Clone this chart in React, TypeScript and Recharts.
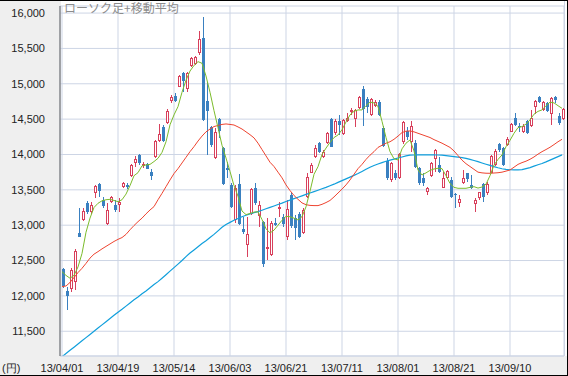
import React from "react"
import { ComposedChart, Bar, Line, XAxis, YAxis, CartesianGrid } from "recharts"

// 日足 (2013/04/01 〜), 始値・高値・安値・終値
const OPEN = [
  12380, 12070, 12100, 12200, 12895, 13080, 13320, 13185, 13450, 13585,
  13360, 13020, 13335, 13290, 13290, 13545, 13570, 13695, 13885, 13990,
  13850, 13865, 13750, 13960, 14195, 14385, 14440, 14760, 14830, 14960,
  15157, 14922, 15255, 15275, 15430, 15650, 14750, 14395, 13950, 14500,
  14090, 13815, 13570, 13075, 13585, 12940, 12720, 13160, 13520, 13130,
  13050, 12680, 12580, 13035, 13240, 13120, 12840, 13430, 13095, 13165,
  12885, 13405, 13745, 13970, 14158, 13970, 14160, 14498, 14300, 14474,
  14290, 14480, 14620, 14498, 14653, 14922, 14780, 14560, 14686, 14743,
  14380, 13913, 13640, 13734, 13663, 14182, 14337, 14182, 14168, 13804,
  13663, 13475, 13696, 13937, 13852, 13531, 13663, 13640, 13440, 13319,
  13592, 13734, 13569, 13296, 13380, 13583, 13451, 13743, 13847, 14149,
  14087, 14135, 14323, 14512, 14400, 14323, 14474, 14403, 14677, 14809,
  14630, 14724, 14573, 14818, 14545, 14498,
]
const HIGH = [
  12400, 12130, 12400, 12660, 13240, 13240, 13340, 13330, 13570, 13590,
  13400, 13310, 13410, 13355, 13380, 13615, 13600, 13865, 13980, 14010,
  13900, 13885, 13790, 14205, 14430, 14420, 14645, 14840, 14865, 15125,
  15170, 15170, 15385, 15395, 15740, 15950, 15020, 14400, 14370, 14510,
  14110, 13900, 13600, 13570, 13720, 13120, 13120, 13530, 13600, 13340,
  13060, 13100, 13060, 13100, 13335, 13160, 13355, 13475, 13145, 13190,
  13240, 13735, 13875, 14135, 14180, 14063, 14323, 14512, 14498, 14559,
  14498, 14583, 14653, 14640, 14828, 14970, 14818, 14795, 14771, 14771,
  14403, 13946, 13899, 13781, 14017, 14475, 14394, 14474, 14205, 13828,
  13734, 13545, 13899, 14073, 13970, 13757, 13781, 13687, 13451, 13427,
  13781, 13743, 13710, 13380, 13475, 13602, 13616, 13993, 14073, 14158,
  14101, 14252, 14441, 14583, 14441, 14427, 14488, 14630, 14771, 14828,
  14762, 14747, 14818, 14828, 14583, 14653,
]
const LOW = [
  12110, 11800, 12050, 12080, 12830, 13060, 13160, 13160, 13380, 13400,
  13250, 13005, 13320, 13190, 13190, 13530, 13510, 13685, 13830, 13850,
  13805, 13790, 13640, 13945, 14180, 14180, 14430, 14730, 14748, 14950,
  14890, 14890, 15240, 15265, 15408, 14480, 13990, 14110, 13930, 14230,
  13570, 13670, 13240, 13030, 13000, 12880, 12550, 13145, 13290, 12980,
  12415, 12510, 12560, 12990, 13120, 12980, 12790, 12955, 12790, 12815,
  12875, 13385, 13735, 13945, 14017, 13946, 14148, 14101, 14276, 14276,
  14276, 14465, 14559, 14394, 14639, 14400, 14583, 14545, 14677, 14545,
  14101, 13640, 13616, 13640, 13650, 14150, 14205, 14040, 13804, 13569,
  13555, 13427, 13687, 13757, 13734, 13522, 13650, 13380, 13239, 13262,
  13583, 13616, 13510, 13190, 13357, 13333, 13427, 13734, 13838, 14040,
  13838, 14125, 14314, 14408, 14323, 14300, 14290, 14394, 14573, 14724,
  14620, 14606, 14417, 14733, 14417, 14488,
]
const CLOSE = [
  12135, 12005, 12362, 12634, 12840, 13200, 13190, 13290, 13550, 13490,
  13270, 13220, 13395, 13215, 13335, 13590, 13540, 13850, 13940, 13875,
  13865, 13800, 13700, 14190, 14290, 14196, 14620, 14810, 14762, 15110,
  15044, 15157, 15360, 15385, 15630, 14485, 14612, 14140, 14311, 14326,
  13589, 13774, 13262, 13533, 13014, 12904, 12877, 13514, 13317, 13290,
  12445, 12697, 13033, 13007, 13260, 13014, 13230, 12990, 12960, 12838,
  13213, 13677, 13852, 14098, 14040, 14036, 14309, 14110, 14480, 14417,
  14488, 14512, 14630, 14630, 14809, 14640, 14677, 14780, 14747, 14559,
  14120, 13663, 13875, 13663, 14003, 14465, 14252, 14408, 13828, 13602,
  13602, 13522, 13875, 14064, 13757, 13663, 13767, 13394, 13425, 13366,
  13663, 13649, 13522, 13357, 13465, 13394, 13578, 13984, 14054, 14064,
  13852, 14219, 14427, 14417, 14394, 14408, 14309, 14512, 14762, 14747,
  14747, 14620, 14804, 14771, 14441, 14639,
]

// 移動平均 (緑・赤・青), 図から読み取り
const MA_SHORT = [
  12343, 12290, 12250, 12290, 12410, 12600, 12900, 13100, 13250, 13310,
  13345, 13360, 13366, 13350, 13333, 13360, 13440, 13560, 13700, 13743,
  13840, 13852, 13860, 13900, 13946, 14030, 14180, 14420, 14560, 14677,
  14880, 15050, 15180, 15260, 15313, 15290, 15110, 14880, 14620, 14380,
  14130, 13950, 13760, 13560, 13410, 13200, 13150, 13165, 13185, 13190,
  13080, 12950, 12890, 12930, 13000, 13070, 13125, 13120, 13100, 13074,
  13121, 13260, 13480, 13720, 13828, 14000, 14090, 14170, 14240, 14276,
  14350, 14460, 14560, 14610, 14630, 14630, 14690, 14740, 14730, 14680,
  14470, 14240, 14040, 13940, 13922, 14080, 14160, 14205, 14050, 13780,
  13710, 13740, 13775, 13795, 13805, 13800, 13700, 13590, 13535, 13522,
  13522, 13522, 13535, 13545, 13525, 13540, 13580, 13700, 13850, 13930,
  13993, 14110, 14200, 14300, 14380, 14394, 14430, 14490, 14570, 14610,
  14630, 14690, 14740, 14730, 14690, 14653,
]
const MA_MID = [
  12131, 12140, 12190, 12260, 12330, 12390, 12460, 12535, 12590, 12626,
  12665, 12700, 12735, 12770, 12800, 12825, 12870, 12935, 12995, 13050,
  13100, 13160, 13215, 13263, 13360, 13450, 13545, 13640, 13730, 13800,
  13880, 13960, 14040, 14111, 14190, 14260, 14320, 14360, 14395, 14410,
  14425, 14432, 14425, 14417, 14390, 14360, 14320, 14280, 14235, 14160,
  14070, 13980, 13890, 13830, 13750, 13670, 13570, 13490, 13420, 13366,
  13315, 13290, 13280, 13277, 13277, 13295, 13320, 13350, 13400, 13455,
  13510, 13570, 13640, 13720, 13800, 13860, 13930, 13990, 14040, 14100,
  14130, 14160, 14180, 14215, 14260, 14310, 14330, 14333, 14320, 14300,
  14280, 14260, 14240, 14210, 14185, 14160, 14130, 14100, 14050, 13985,
  13920, 13870, 13830, 13790, 13750, 13740, 13735, 13734, 13738, 13742,
  13750, 13765, 13781, 13820, 13860, 13885, 13905, 13932, 13965, 14005,
  14040, 14070, 14102, 14140, 14180, 14215,
]
const MA_LONG = [
  11140, 11185, 11230, 11275, 11320, 11365, 11410, 11455, 11500, 11545,
  11590, 11635, 11680, 11725, 11770, 11810, 11855, 11900, 11945, 11985,
  12030, 12070, 12115, 12160, 12202, 12250, 12300, 12350, 12400, 12450,
  12500, 12555, 12607, 12650, 12695, 12740, 12780, 12825, 12870, 12920,
  12970, 13010, 13040, 13070, 13095, 13120, 13140, 13160, 13178, 13192,
  13212, 13232, 13252, 13272, 13292, 13312, 13335, 13355, 13375, 13395,
  13415, 13435, 13455, 13475, 13495, 13515, 13535, 13558, 13580, 13605,
  13630, 13655, 13680, 13705, 13730, 13760, 13790, 13820, 13845, 13865,
  13885, 13905, 13920, 13935, 13950, 13965, 13980, 13990, 13993, 13995,
  13995, 13995, 13995, 13995, 13993, 13992, 13985, 13978, 13970, 13963,
  13955, 13945, 13930, 13915, 13899, 13880, 13862, 13845, 13828, 13812,
  13798, 13790, 13784, 13781, 13781, 13786, 13800, 13815, 13835, 13855,
  13872, 13895, 13920, 13945, 13970, 13995,
]

// 14営業日ごとの日付ラベル
const TICK_LABELS = [
  "13/04/01", "13/04/19", "13/05/14", "13/06/03", "13/06/21",
  "13/07/11", "13/08/01", "13/08/21", "13/09/10",
]
const Y_TICKS = [11500, 12000, 12500, 13000, 13500, 14000, 14500, 15000, 15500, 16000]

const RED = "#d8405c"
const BLUE = "#3a80c0"
const GRID = "#cdd5e5"
const FONT = "Arial, 'Liberation Sans', sans-serif"

const data = OPEN.map((o, i) => ({
  i,
  open: o,
  high: HIGH[i],
  low: LOW[i],
  close: CLOSE[i],
  maShort: MA_SHORT[i],
  maMid: MA_MID[i],
  maLong: MA_LONG[i],
}))

function Candle(props: any) {
  const { x, y, width, height, payload } = props
  if (!payload || !height) return null
  const { open, close, high, low } = payload
  const k = height / (high - low)
  const cx = Math.round(x + width / 2)
  const top = Math.round(y + (high - Math.max(open, close)) * k)
  const bot = Math.round(y + (high - Math.min(open, close)) * k)
  const up = close >= open
  const color = up ? RED : BLUE
  return (
    <g>
      <line x1={cx + 0.5} x2={cx + 0.5} y1={Math.round(y)} y2={Math.round(y + height)} stroke={color} strokeWidth={1} />
      {up ? (
        <rect x={cx - 0.5} y={top + 0.5} width={2} height={Math.max(bot - top - 1, 1)} fill="#fff" stroke={color} strokeWidth={1} />
      ) : (
        <rect x={cx - 1} y={top} width={3} height={Math.max(bot - top, 1)} fill={color} />
      )}
    </g>
  )
}

export default function App() {
  return (
    <div
      style={{
        position: "absolute",
        left: 0,
        top: 0,
        width: 568,
        height: 376,
        background: "#efefef",
        boxShadow: "inset 0 1px 0 #000, inset -1px 0 0 #000, inset 0 -1px 0 #000",
        fontFamily: FONT,
      }}
    >
      <div style={{ position: "absolute", left: 61, top: 1, width: 506, height: 355, background: "#fff" }} />
      <div style={{ position: "absolute", left: 564, top: 1, width: 1, height: 355, background: GRID }} />
      <div style={{ position: "absolute", left: 0, top: 0 }}>
        <ComposedChart width={568} height={376} data={data} margin={{ top: 6, right: 4, bottom: 0, left: 0 }}>
          <CartesianGrid stroke={GRID} strokeWidth={1} />
          <XAxis
            dataKey="i"
            type="category"
            interval={13}
            height={20}
            tickLine={false}
            tickSize={0}
            tickMargin={8}
            axisLine={{ stroke: GRID }}
            tick={{ fontSize: 11, fill: "#222", fontFamily: FONT }}
            tickFormatter={(v: number) => TICK_LABELS[v / 14] ?? ""}
          />
          <YAxis
            type="number"
            domain={[11150, 16100]}
            allowDataOverflow
            ticks={Y_TICKS}
            width={60}
            tickLine={false}
            tickSize={0}
            tickMargin={15}
            axisLine={{ stroke: "#606060" }}
            tick={{ fontSize: 11, fill: "#222", fontFamily: FONT }}
            tickFormatter={(v: number) => v.toLocaleString("en-US")}
          />
          <Bar dataKey={(d: any) => [d.low, d.high]} barSize={3} shape={Candle} isAnimationActive={false} />
          <Line type="linear" dataKey="maLong" stroke="#109fdc" strokeWidth={1.2} dot={false} activeDot={false} isAnimationActive={false} />
          <Line type="linear" dataKey="maMid" stroke="#ee4430" strokeWidth={1} dot={false} activeDot={false} isAnimationActive={false} />
          <Line type="linear" dataKey="maShort" stroke="#7cbc2c" strokeWidth={1} dot={false} activeDot={false} isAnimationActive={false} />
        </ComposedChart>
      </div>
      <div style={{ position: "absolute", left: 64, top: 0, fontSize: 12, lineHeight: "15px", color: "#8c8c8c", fontFamily: "'Noto Sans CJK JP', sans-serif" }}>
        ローソク足+移動平均
      </div>
      <div style={{ position: "absolute", left: 2, top: 361, fontSize: 11, lineHeight: "14px", color: "#222" }}>(円)</div>
    </div>
  )
}
